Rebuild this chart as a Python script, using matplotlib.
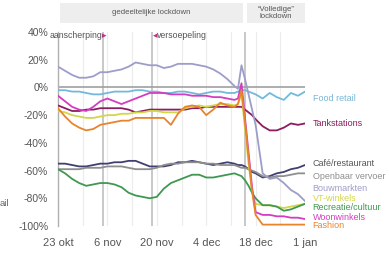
import matplotlib
matplotlib.use("Agg")
import matplotlib.pyplot as plt
import matplotlib.dates as mdates
import matplotlib.transforms as mtransforms
from matplotlib.patches import Rectangle
import pandas as pd
import numpy as np

plt.rcParams['font.family'] = ['Liberation Sans', 'DejaVu Sans']

start = pd.Timestamp("2020-10-23")
day_offsets = list(range(0, 51, 2)) + [51, 52, 53, 54, 55, 56] + list(range(58, 71, 2))
dates = [start + pd.Timedelta(days=d) for d in day_offsets]

food_retail = [-2, -2, -3, -3, -4, -5, -5, -4, -3, -3, -3, -2, -2, -3, -3, -4, -4, -3, -3, -4, -5, -4, -3, -3, -4, -4,
               -3, -2, -2, -3, -4, -5, -8, -4, -7, -9, -4, -6, -3]
tankstations = [-13, -15, -17, -17, -16, -16, -15, -15, -15, -15, -16, -18, -17, -16, -16, -16, -16, -16, -16, -15, -15, -14, -14, -14, -14, -14,
                -14, -14, -16, -18, -20, -23, -28, -31, -31, -29, -26, -27, -26]
cafe_restaurant = [-55, -55, -56, -57, -57, -56, -55, -55, -54, -54, -53, -53, -55, -57, -57, -57, -56, -54, -54, -53, -54, -55, -56, -55, -54, -55,
                   -56, -56, -57, -59, -61, -62, -65, -64, -62, -61, -59, -58, -56]
openbaar_vervoer = [-59, -59, -59, -59, -58, -58, -58, -57, -57, -57, -58, -59, -59, -59, -58, -56, -55, -55, -54, -54, -54, -55, -55, -56, -56, -56,
                    -57, -58, -58, -59, -60, -61, -64, -65, -64, -64, -63, -62, -62]
bouwmarkten = [15, 12, 9, 7, 7, 8, 11, 11, 12, 13, 15, 18, 17, 16, 16, 14, 15, 17, 17, 17, 16, 15, 13, 10, 6, 1,
               -1, 16, 6, -5, -16, -27, -62, -66, -65, -69, -74, -77, -82]
vt_winkels = [-17, -18, -20, -21, -22, -22, -21, -20, -20, -19, -19, -18, -18, -17, -17, -18, -18, -18, -15, -14, -13, -14, -13, -12, -12, -13,
              -12, -5, -30, -55, -75, -84, -85, -85, -86, -87, -86, -85, -84]
recreatie_cultuur = [-59, -62, -66, -69, -71, -70, -69, -69, -70, -72, -76, -78, -79, -80, -79, -73, -69, -67, -65, -63, -63, -65, -65, -64, -63, -62,
                     -63, -64, -67, -71, -76, -80, -85, -85, -86, -89, -88, -86, -84]
woonwinkels = [-6, -10, -14, -16, -17, -14, -10, -8, -10, -12, -10, -8, -6, -4, -4, -4, -5, -5, -5, -6, -6, -6, -7, -7, -8, -9,
               -8, 3, -22, -47, -72, -90, -92, -92, -93, -93, -94, -94, -95]
fashion = [-15, -21, -26, -29, -31, -30, -27, -26, -25, -24, -24, -22, -22, -22, -22, -22, -27, -19, -14, -13, -14, -20, -16, -11, -13, -14,
           -12, -2, -25, -50, -75, -92, -99, -99, -99, -99, -99, -99, -99]

series_names = ["Food retail", "Tankstations", "Café/restaurant", "Openbaar vervoer", "Bouwmarkten",
                "VT-winkels", "Recreatie/cultuur", "Woonwinkels", "Fashion"]
series_values = [food_retail, tankstations, cafe_restaurant, openbaar_vervoer, bouwmarkten,
                 vt_winkels, recreatie_cultuur, woonwinkels, fashion]
series_colors = ["#72b9dc", "#8c1d5e", "#3f3f73", "#8e8e8e", "#9d9dca",
                 "#d2d64a", "#3e9950", "#d43cc2", "#e8842c"]
label_colors = ["#7ab6d6", "#8c1d5e", "#555555", "#8e8e8e", "#9d9dca",
                "#d2d64a", "#3e9950", "#d43cc2", "#e8842c"]
label_y = [-8, -26, -55, -64, -73, -80, -87, -94, -100]

tick_dates = ["2020-10-23", "2020-11-06", "2020-11-20", "2020-12-04", "2020-12-18", "2021-01-01"]
tick_labels = ["23 okt", "6 nov", "20 nov", "4 dec", "18 dec", "1 jan"]
y_ticks = [40, 20, 0, -20, -40, -60, -80, -100]

event_dates = ["2020-11-04 18:00", "2020-11-18 12:00", "2020-12-15 00:00"]
event_labels = ["aanscherping", "versoepeling"]
periods = [("2020-10-23 12:00", "2020-12-14 12:00", "gedeeltelijke lockdown"),
           ("2020-12-15 12:00", "2021-01-01 00:00", "\u201cVolledige\u201d\nlockdown")]

W, H = 389, 262
fig = plt.figure(figsize=(W / 100, H / 100), dpi=100)
ax = fig.add_axes([58 / W, 1 - 226 / H, (305 - 58) / W, (226 - 32) / H])

ax.set_xlim(pd.Timestamp("2020-10-23"), pd.Timestamp("2021-01-01"))
ax.set_ylim(-100, 40)

# weekly light grid
for d in pd.date_range("2020-10-30", "2020-12-31", freq="7D"):
    ax.axvline(d, color="#ececec", lw=0.8, zorder=0)
for d in event_dates:
    ax.axvline(pd.Timestamp(d), color="#c8c8c8", lw=1.4, zorder=1)
ax.axhline(0, color="#a0a0a0", lw=1.2, zorder=1)

for vals, col in zip(series_values, series_colors):
    ax.plot(dates, vals, color=col, lw=1.3, zorder=3)

for s in ["top", "right", "bottom"]:
    ax.spines[s].set_visible(False)
ax.spines["left"].set_color("#b0b0b0")
ax.spines["left"].set_linewidth(1.0)

ax.set_yticks(y_ticks)
ax.set_yticklabels([f"{v}%" for v in y_ticks], fontsize=7.5, color="#555555")
ax.set_xticks([pd.Timestamp(t) for t in tick_dates])
ax.set_xticklabels(tick_labels, fontsize=8, color="#555555")
ax.tick_params(axis="both", length=0)
ax.tick_params(axis="y", pad=7)
ax.tick_params(axis="x", pad=9)

# series labels on right
end_date = pd.Timestamp("2021-01-01")
for name, ly, lc in zip(series_names, label_y, label_colors):
    ax.annotate(name, xy=(end_date, ly), xytext=(5.5, 0), textcoords="offset points",
                fontsize=6.5, color=lc, va="center", ha="left", annotation_clip=False)

# header boxes
trans = mtransforms.blended_transform_factory(ax.transData, ax.transAxes)
y0 = (226 - 23) / 194
y1 = (226 - 3) / 194
for a, b, txt in periods:
    xa = mdates.date2num(pd.Timestamp(a))
    xb = mdates.date2num(pd.Timestamp(b))
    ax.add_patch(Rectangle((xa, y0), xb - xa, y1 - y0, transform=trans,
                           facecolor="#eeeeee", edgecolor="none", clip_on=False, zorder=0))
    ax.text((xa + xb) / 2, (y0 + y1) / 2, txt, transform=trans, ha="center", va="center",
            fontsize=5.6, color="#555555", linespacing=1.1)

# event labels
ey = (226 - 36) / 194
ax.text(pd.Timestamp(event_dates[0]) - pd.Timedelta(hours=6), ey, event_labels[0], transform=trans,
        ha="right", va="center", fontsize=6.3, color="#555555")
ax.text(pd.Timestamp(event_dates[0]) - pd.Timedelta(hours=4), ey, "\u25b8", transform=trans,
        ha="left", va="center", fontsize=6.5, color="#c42d8a", family=["DejaVu Sans"])
ax.text(pd.Timestamp(event_dates[1]) + pd.Timedelta(hours=12), ey, "\u25c2", transform=trans,
        ha="left", va="center", fontsize=6.5, color="#c42d8a", family=["DejaVu Sans"])
ax.text(pd.Timestamp(event_dates[1]) + pd.Timedelta(hours=36), ey, event_labels[1], transform=trans,
        ha="left", va="center", fontsize=6.3, color="#555555")

fig.text(0 / W, 1 - 204 / H, "ail", fontsize=6.8, color="#666666", ha="left", va="center")

fig.savefig("out.png", dpi=100, facecolor="white")
